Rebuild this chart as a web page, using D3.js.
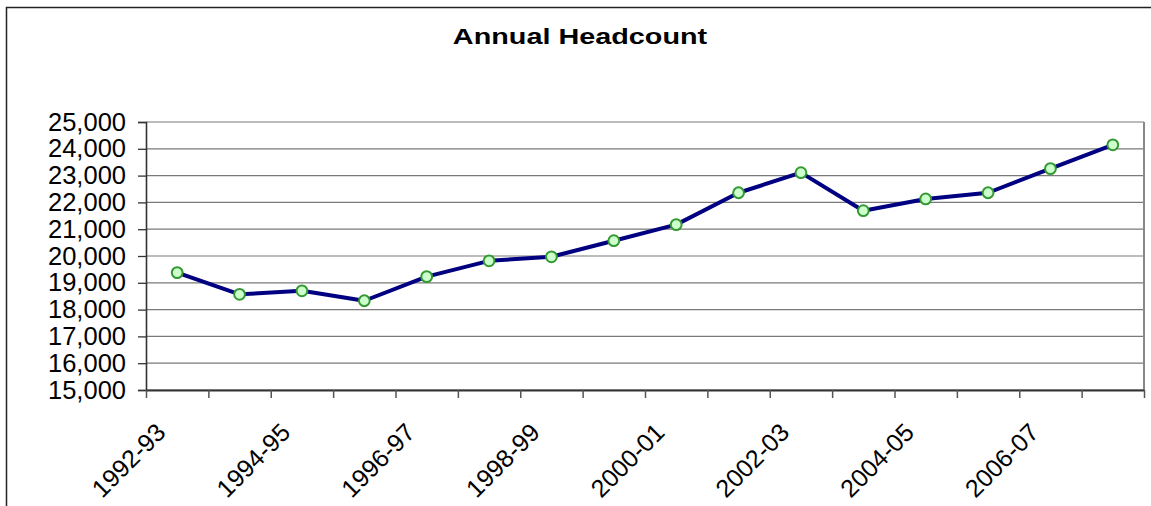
<!DOCTYPE html>
<html><head><meta charset="utf-8">
<script src="https://cdn.jsdelivr.net/npm/d3@7"></script>
<style>
body{margin:0;background:#fff;overflow:hidden;}
svg{display:block;font-family:"Liberation Sans",Arial,sans-serif;}
</style>
</head><body>
<svg id="c" width="1151" height="506"></svg>
<script>
const title = "Annual Headcount";
const categories = ["1992-93","1993-94","1994-95","1995-96","1996-97","1997-98","1998-99","1999-00",
  "2000-01","2001-02","2002-03","2003-04","2004-05","2005-06","2006-07","2007-08"];
const headcount = [19380,18570,18700,18330,19230,19820,19970,20570,21170,22360,23110,21690,22130,22360,23260,24150];
const yTicks = [15000,16000,17000,18000,19000,20000,21000,22000,23000,24000,25000];
const labelEvery = 2;

const svg = d3.select("#c");
const L = 146, R = 1144, T = 122, B = 390;

// outer frame
svg.append("rect").attr("x",6.5).attr("y",7.5).attr("width",1200).attr("height",600)
  .attr("fill","#fff").attr("stroke","#222").attr("stroke-width",1.5);

// title
svg.append("text").attr("transform",`translate(580,44) scale(1.28,1)`)
  .attr("text-anchor","middle").attr("font-weight","bold").attr("font-size",22.5)
  .attr("fill","#000").text(title);

const x = d3.scaleBand().domain(categories).range([L,R]).padding(0);
const xi = d3.scaleLinear().domain([0,categories.length]).range([L,R]);
const y = d3.scaleLinear().domain([15000,25000]).range([B,T]);

// gridlines
svg.append("g").selectAll("line").data(yTicks).join("line")
  .attr("x1",L).attr("x2",R).attr("y1",d=>y(d)).attr("y2",d=>y(d))
  .attr("stroke","#7a7a7a").attr("stroke-width",1.2);

// right plot border
svg.append("line").attr("x1",R).attr("x2",R).attr("y1",T).attr("y2",B)
  .attr("stroke","#888").attr("stroke-width",2);

// y axis
const ya = svg.append("g").attr("transform",`translate(${L},0)`)
  .call(d3.axisLeft(y).tickValues(yTicks).tickFormat(d3.format(",")).tickSize(8).tickPadding(12));
ya.select(".domain").attr("stroke","#333").attr("stroke-width",1.6);
ya.selectAll(".tick line").attr("stroke","#333").attr("stroke-width",1.3);
ya.selectAll(".tick text").attr("font-size",25.5).attr("fill","#000")
  .attr("font-family","'Liberation Sans',Arial,sans-serif");

// x axis (ticks at category boundaries)
const xa = svg.append("g").attr("transform",`translate(0,${B})`)
  .call(d3.axisBottom(xi).tickValues(d3.range(categories.length+1)).tickFormat("").tickSize(8).tickSizeOuter(0));
xa.select(".domain").attr("stroke","#333").attr("stroke-width",2);
xa.selectAll(".tick line").attr("stroke","#555").attr("stroke-width",1.5);

// x labels
svg.append("g").selectAll("text").data(categories.filter((c,i)=>i%labelEvery===0)).join("text")
  .attr("transform",d=>`translate(${x(d)+x.bandwidth()/2-10},${B+44}) rotate(-45)`)
  .attr("text-anchor","end").attr("font-size",25).attr("fill","#000")
  .attr("font-family","'Liberation Sans',Arial,sans-serif").text(d=>d);

// line
const cx = d=>x(d)+x.bandwidth()/2;
svg.append("path").datum(categories.map((c,i)=>[cx(c),y(headcount[i])]))
  .attr("d",d3.line()).attr("fill","none").attr("stroke","#000080").attr("stroke-width",4)
  .attr("stroke-linejoin","round");

// markers
svg.append("g").selectAll("circle").data(categories).join("circle")
  .attr("cx",cx).attr("cy",(c,i)=>y(headcount[i])).attr("r",5.4)
  .attr("fill","#ccffcc").attr("stroke","#339933").attr("stroke-width",2);
</script>
</body></html>
